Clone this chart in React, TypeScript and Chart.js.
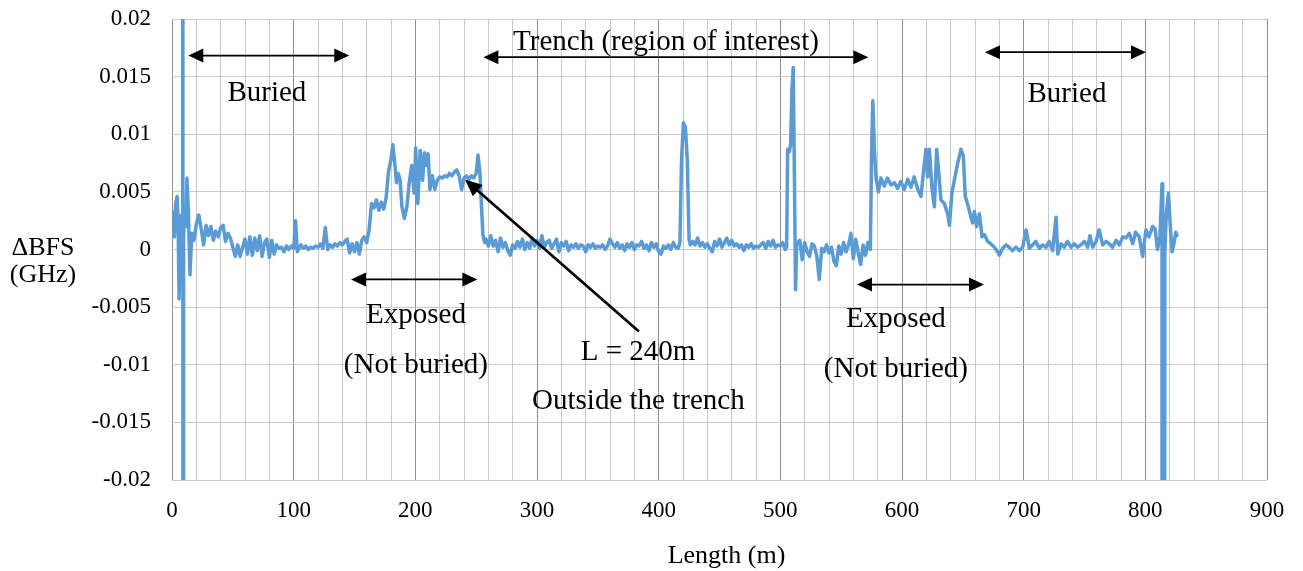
import React, { useEffect, useRef } from "react";
import { Chart, registerables } from "chart.js";

Chart.register(...registerables);

const FONT = '"Liberation Serif", "Times New Roman", serif';

// ΔBFS trace, [length (m), ΔBFS (GHz)], by region
const buriedWestTrace: [number, number][] = [
  [0, 0.0018], [1, 0.0032], [2, 0.0011], [3, 0.004], [4.2, 0.0046], [5, 0.0025], [5.8, -0.0043],
  [6.8, 0.0008], [7.6, 0.003], [8.5, 0.0012], [8.8, 0.5], [9.1, -0.5], [9.5, 0.001], [10.5, 0.0035],
  [11.5, 0.002], [12.3, 0.0062], [13.4, 0.0035], [14.8, -0.0022], [16.2, 0.0014], [18, 0.0008],
  [20, 0.0022], [22, 0.003], [24, 0.0018], [26, 0.0004], [28, 0.0021], [30, 0.0012], [32, 0.002],
  [34, 0.0008], [36, 0.0016], [38, 0.0011], [40, 0.0019], [42, 0.0021], [44, 0.0007], [46, 0.0014],
  [48, 0.001], [50, 0.0002], [52, -0.0006], [54, 0.0004], [56, -0.0006], [58, 0.0002], [60, 0.0009],
  [62, -0.0004], [64, 0.0011], [66, -0.0005], [68, 0.001], [70, -0.0001], [72, 0.0012], [74, -0.0006],
  [76, 0.0006], [78, 0.0009], [80, -0.0007], [82, 0.0008], [84, -0.0004], [86, 0.0004], [88, 0.0001],
  [90, 0.0002], [92, -0.0002], [94, 0.0003], [96, 0.0], [98, 0.0003], [100, 0.0001], [101.5, 0.0025],
  [103, -0.0002], [106, 0.0004], [108, 0.0001], [110, 0.0003], [112, 0.0], [114, 0.0002], [116, 0.0001],
  [118, 0.0003], [120, 0.0002], [122, 0.0005], [124, 0.0001], [126, 0.0019], [128, 0.0], [130, 0.0004],
  [132, 0.0002], [134, 0.0005], [136, 0.0003], [138, 0.0006], [140, 0.0004], [142, 0.0007], [144, 0.0009],
  [146, -0.0003],
];

const exposedWestTrace: [number, number][] = [
  [148, 0.0005], [150, -0.0002], [152, 0.0006], [154, -0.0004], [156, 0.0008], [158, 0.0011], [160, 0.0006],
  [162, 0.0017], [164, 0.004], [166, 0.0036], [168, 0.0043], [170, 0.0034], [172, 0.0041], [174, 0.0035],
  [176, 0.0045], [178, 0.0068], [180, 0.0078], [181.5, 0.0091], [183, 0.0076], [184.5, 0.0058],
  [186, 0.0066], [187.5, 0.006], [189, 0.0037], [191, 0.0027], [193, 0.0037], [195, 0.0058], [197, 0.0073],
  [199, 0.0049], [200.3, 0.0088], [202, 0.004], [204, 0.0086], [206, 0.006], [207.5, 0.0084], [209, 0.0073],
  [210.5, 0.0083], [212, 0.0052], [214, 0.0064], [216, 0.0052], [218, 0.006], [220, 0.0063], [222, 0.0062],
  [224, 0.0064], [226, 0.0063], [228, 0.0066], [230, 0.0064], [232, 0.0067], [234, 0.0069], [236, 0.0064],
  [238, 0.0052], [240, 0.0062], [242, 0.0064], [244, 0.0061], [246, 0.0064], [248, 0.0062], [250, 0.0066],
  [251.5, 0.0082], [253, 0.0068], [254.5, 0.0035], [255.5, 0.0013], [257, 0.0006],
];

const trenchTrace: [number, number][] = [
  [258, 0.0009], [260, 0.0003], [262, 0.0012], [264, 0.0003], [266, 0.0008], [268, -0.0002], [270, 0.001],
  [272, 0.0002], [274, 0.0006], [276, -0.0001], [278, -0.0005], [280, 0.0004], [282, 0.0001], [284, 0.0007],
  [286, 0.0002], [288, 0.0009], [290, 0.0], [292, 0.0006], [294, 0.0001], [296, 0.001], [298, 0.0003],
  [300, 0.0008], [302, 0.0001], [304, 0.0012], [306, 0.0002], [308, 0.0006], [310, 0.0008], [312, 0.0001],
  [314, 0.0005], [316, 0.0009], [318, -0.0002], [320, 0.0006], [322, 0.0003], [324, 0.0007], [326, -0.0001],
  [328, 0.0004], [330, 0.0002], [332, 0.0005], [334, 0.0001], [336, 0.0004], [338, 0.0003], [340, -0.0002],
  [342, 0.0004], [344, 0.0002], [346, 0.0005], [348, 0.0001], [350, 0.0003], [352, 0.0002], [354, 0.0004],
  [356, 0.0], [358, 0.0003], [360, 0.0009], [362, 0.0005], [364, 0.0002], [366, 0.0006], [368, 0.0001],
  [370, 0.0004], [372, -0.0001], [374, 0.0005], [376, 0.0002], [378, 0.0006], [380, 0.0], [382, 0.0004],
  [384, 0.0003], [386, 0.0007], [388, 0.0001], [390, 0.0004], [392, -0.0001], [394, 0.0006], [396, 0.0002],
  [398, 0.0005], [400, -0.0002], [402, -0.0004], [404, 0.0003], [406, 0.0001], [408, 0.0004], [410, 0.0],
  [412, 0.0006], [414, 0.0002], [416, 0.0001], [417.5, 0.0006], [418.8, 0.0078], [420.3, 0.011],
  [422, 0.0106], [423.5, 0.0078], [425, 0.0009], [426, 0.0004], [428, 0.0007], [430, 0.0004], [432, 0.001],
  [434, 0.0003], [436, 0.0006], [438, 0.0002], [440, 0.0005], [442, 0.0001], [444, -0.0002], [446, 0.0007],
  [448, 0.0003], [450, 0.0009], [452, 0.0002], [454, 0.0006], [456, 0.001], [458, 0.0004], [460, 0.0008],
  [462, 0.0003], [464, 0.0005], [466, 0.0002], [468, 0.0004], [470, -0.0001], [472, 0.0004], [474, 0.0002],
  [476, 0.0005], [478, 0.0001], [480, 0.0003], [482, 0.0002], [484, 0.0004], [486, 0.0006], [488, 0.0001],
  [490, 0.0007], [492, 0.0003], [494, 0.0008], [496, 0.0002], [498, 0.0004], [500, 0.0003], [502, 0.0006],
  [504, 0.0], [505.2, 0.0002], [506, 0.0087], [507.5, 0.0085], [508.5, 0.0092], [509.5, 0.0138],
  [510.6, 0.0158], [511.5, 0.007], [512.5, -0.0035], [513.5, 0.0005], [516, 0.0008], [518, -0.0009],
  [520, 0.0006], [522, -0.0002], [524, -0.0006], [526, 0.0005], [528, 0.0003], [530, -0.0006],
  [532, -0.0026], [534, 0.0001], [536, -0.0002], [538, 0.0004], [540, -0.0003], [542, 0.0002],
  [544, -0.001], [546, -0.0014], [548, 0.0003], [550, -0.0004], [552, 0.0006], [554, -0.0002], [556, 0.0004],
  [558, 0.0014], [560, -0.0008], [562, 0.0009], [564, -0.0003], [566, -0.0013], [568, 0.0004],
  [570, -0.0005], [572, 0.0006], [574, 0.0],
];

const exposedEastTrace: [number, number][] = [
  [575, 0.0084], [576, 0.0129], [577.3, 0.0087], [578.6, 0.0063], [580.5, 0.005], [582.7, 0.0062],
  [585.5, 0.0055], [588, 0.0062], [591, 0.0056], [593.7, 0.0058], [596.4, 0.0053], [599, 0.0059],
  [602, 0.0052], [604.7, 0.0061], [607.4, 0.0054], [610, 0.0063], [613, 0.0052], [615.6, 0.0046],
  [617.5, 0.0066], [619.7, 0.0087], [621, 0.0063], [622.5, 0.0087], [624.7, 0.0052], [626.6, 0.0037],
  [628.5, 0.0087], [630, 0.0069], [632, 0.0043], [634.8, 0.004], [637.5, 0.0031], [639, 0.0021],
  [641, 0.0049], [643, 0.006], [645.8, 0.0075], [648.5, 0.0087], [650.4, 0.0081], [652, 0.0046],
  [654, 0.0039], [656, 0.0031], [658, 0.0023], [659.5, 0.0033], [661.4, 0.002], [663.6, 0.0031],
  [665.8, 0.0011], [667.7, 0.0013], [670.4, 0.0007], [673, 0.0005], [675.9, 0.0002], [678.6, -0.0002],
  [680, -0.0005],
];

const buriedEastTrace: [number, number][] = [
  [682.7, 0.0001], [685.5, 0.0004], [688, 0.0002], [691, -0.0001], [693.7, 0.0002], [696.4, -0.0001],
  [699.2, 0.0002], [702, 0.0017], [704.7, 0.0001], [707.4, 0.0004], [710, 0.0007], [712.9, 0.0001],
  [715.6, 0.0004], [718.4, 0.0002], [721, 0.0007], [723.8, -0.0001], [726.6, 0.0028], [728, -0.0004],
  [730.7, 0.0005], [733.4, 0.0002], [736, 0.0007], [739, 0.0002], [741.6, 0.0005], [744.4, 0.0002],
  [747, 0.0004], [749.9, 0.0007], [752.6, 0.0002], [754.5, 0.0012], [756.7, 0.0002], [759.5, 0.0007],
  [762, 0.0017], [765, 0.0004], [767.7, 0.0007], [770.4, 0.0005], [773, 0.0002], [775.9, 0.0008],
  [778.6, 0.0004], [781.4, 0.0011], [784, 0.001], [786.8, 0.0014], [789.6, 0.0005], [792, 0.0015],
  [795, 0.0011], [797.8, -0.0006], [800.5, 0.0017], [803, 0.0011], [806, 0.002], [808, 0.0018], [810, 0.0],
  [812, 0.0011], [813.7, 0.0057], [814.3, -0.5], [816, -0.0005], [817.2, 0.003], [819, 0.0049],
  [820.5, 0.002], [822, -0.0002], [823.5, 0.0005], [825, 0.0015], [826, 0.0012],
];

// Axis ranges and ticks
const xRange: [number, number] = [0, 900];
const xMinorStep = 20;
const xMajorStep = 100;
const yRange: [number, number] = [-0.02, 0.02];
const yStep = 0.005;

// Region annotations: text and position in data units (x in m, y = text baseline in GHz)
const regionLabels: { text: string; at: [number, number] }[] = [
  { text: "Buried", at: [78, 0.01287] },
  { text: "Trench (region of interest)", at: [406, 0.01735] },
  { text: "Buried", at: [735.6, 0.01278] },
  { text: "Exposed", at: [200.5, -0.00636] },
  { text: "(Not buried)", at: [200.5, -0.0107] },
  { text: "Exposed", at: [595, -0.00675] },
  { text: "(Not buried)", at: [595, -0.01109] },
  { text: "L = 240m", at: [383, -0.00963] },
  { text: "Outside the trench", at: [383.3, -0.01388] },
];

// Double-headed span arrows: [from m, to m, at GHz]
const spanArrows: [number, number, number][] = [
  [13.4, 145.7, 0.01683],
  [255.9, 572.3, 0.01669],
  [668.2, 800.5, 0.01712],
  [147.1, 251.0, -0.0026],
  [563.0, 667.4, -0.00304],
];

// Pointer arrow from the "L = 240m" label to the trace at L = 240 m
const pointerFrom: [number, number] = [383.8, -0.00711];
const pointerTo: [number, number] = [240.8, 0.00607];

const yTitleLines = ["\u0394BFS", "(GHz)"];
const xTitle = "Length (m)";

function drawHead(ctx: CanvasRenderingContext2D, tx: number, ty: number, fx: number, fy: number, len: number, halfW: number) {
  const a = Math.atan2(ty - fy, tx - fx);
  const c = Math.cos(a);
  const s = Math.sin(a);
  ctx.beginPath();
  ctx.moveTo(tx, ty);
  ctx.lineTo(tx - len * c + halfW * s, ty - len * s - halfW * c);
  ctx.lineTo(tx - len * c - halfW * s, ty - len * s + halfW * c);
  ctx.closePath();
  ctx.fill();
}

const annotationPlugin = {
  id: "bfsAnnotations",
  afterDatasetsDraw(chart: any) {
    const { ctx, chartArea } = chart;
    const xs = chart.scales.x;
    const ys = chart.scales.y;
    ctx.save();
    ctx.fillStyle = "#000";
    ctx.strokeStyle = "#000";

    const HL = 15;
    const HW = 7;
    ctx.lineWidth = 1.8;
    for (const [a, b, v] of spanArrows) {
      const x1 = xs.getPixelForValue(a);
      const x2 = xs.getPixelForValue(b);
      const yy = ys.getPixelForValue(v);
      ctx.beginPath();
      ctx.moveTo(x1 + HL - 1, yy);
      ctx.lineTo(x2 - HL + 1, yy);
      ctx.stroke();
      drawHead(ctx, x1, yy, x2, yy, HL, HW);
      drawHead(ctx, x2, yy, x1, yy, HL, HW);
    }

    const px1 = xs.getPixelForValue(pointerFrom[0]);
    const py1 = ys.getPixelForValue(pointerFrom[1]);
    const px2 = xs.getPixelForValue(pointerTo[0]);
    const py2 = ys.getPixelForValue(pointerTo[1]);
    const ang = Math.atan2(py2 - py1, px2 - px1);
    ctx.lineWidth = 2.7;
    ctx.beginPath();
    ctx.moveTo(px1, py1);
    ctx.lineTo(px2 - 14 * Math.cos(ang), py2 - 14 * Math.sin(ang));
    ctx.stroke();
    drawHead(ctx, px2, py2, px1, py1, 17, 7.5);

    ctx.font = `29px ${FONT}`;
    ctx.textAlign = "center";
    ctx.textBaseline = "alphabetic";
    for (const t of regionLabels) {
      ctx.fillText(t.text, xs.getPixelForValue(t.at[0]), ys.getPixelForValue(t.at[1]));
    }

    ctx.font = `26px ${FONT}`;
    const midY = (chartArea.top + chartArea.bottom) / 2;
    ctx.fillText(yTitleLines[0], 43, midY + 5);
    ctx.fillText(yTitleLines[1], 43, midY + 32);
    ctx.fillText(xTitle, (chartArea.left + chartArea.right) / 2 + 7, chart.height - 8);
    ctx.restore();
  },
};

export default function App() {
  const canvasRef = useRef<HTMLCanvasElement | null>(null);

  useEffect(() => {
    const canvas = canvasRef.current;
    if (!canvas) return;
    const trace = [
      ...buriedWestTrace,
      ...exposedWestTrace,
      ...trenchTrace,
      ...exposedEastTrace,
      ...buriedEastTrace,
    ].map(([x, y]) => ({ x, y }));

    const light = "#c9c9c9";
    const dark = "#8e8e8e";

    const chart = new Chart(canvas, {
      type: "line",
      data: {
        datasets: [
          {
            label: "\u0394BFS",
            data: trace,
            borderColor: "#5B9BD5",
            backgroundColor: "#5B9BD5",
            borderWidth: 3.5,
            pointRadius: 0,
            tension: 0,
            fill: false,
            borderJoinStyle: "round",
            borderCapStyle: "round",
          },
        ],
      },
      options: {
        responsive: false,
        animation: false,
        devicePixelRatio: 1,
        layout: { padding: { top: 19, right: 36, bottom: 0, left: 0 } },
        plugins: {
          legend: { display: false },
          tooltip: { enabled: false },
          title: { display: false },
        },
        scales: {
          x: {
            type: "linear",
            min: xRange[0],
            max: xRange[1],
            border: { display: false },
            grid: {
              drawTicks: false,
              lineWidth: 1,
              color: (c: any) => (c.tick && c.tick.value % xMajorStep === 0 ? dark : light),
            },
            ticks: {
              stepSize: xMinorStep,
              autoSkip: false,
              maxRotation: 0,
              padding: 17,
              color: "#000",
              font: { family: FONT, size: 23 },
              callback: (v: any) => (Number(v) % xMajorStep === 0 ? String(v) : ""),
            },
            afterFit: (s: any) => {
              s.height = 91;
              s.paddingLeft = 0;
              s.paddingRight = 0;
            },
          },
          y: {
            type: "linear",
            min: yRange[0],
            max: yRange[1],
            border: { display: false },
            grid: { drawTicks: false, lineWidth: 1, color: light },
            ticks: {
              stepSize: yStep,
              padding: 21,
              color: "#000",
              font: { family: FONT, size: 23 },
              callback: (v: any) => String(Number(Number(v).toFixed(4))),
            },
            afterFit: (s: any) => {
              s.width = 172;
              s.paddingTop = 0;
              s.paddingBottom = 0;
            },
          },
        },
      },
      plugins: [annotationPlugin],
    } as any);

    return () => chart.destroy();
  }, []);

  return (
    <div style={{ position: "fixed", left: 0, top: 0, width: 1303, height: 571, background: "#fff" }}>
      <canvas ref={canvasRef} width={1303} height={571} style={{ display: "block" }} />
    </div>
  );
}
